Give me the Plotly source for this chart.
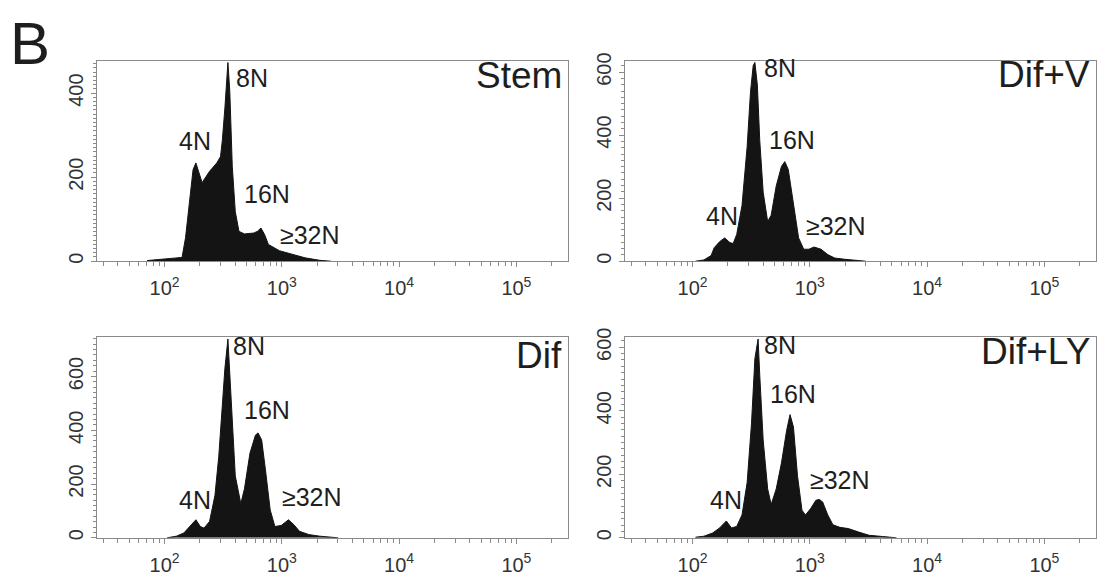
import math
import plotly.graph_objects as go

# ---------------- data (DNA content in arbitrary fluorescence units, counts) ----------------
stem_x = [71, 95, 117, 141, 151, 163, 175, 185, 209, 242, 279, 300, 311, 327, 342, 347, 360, 378, 401, 431,
          480, 575, 618, 664, 714, 768, 953, 1271, 1578, 2108, 2618]
stem_y = [1.5, 5, 8, 9, 56, 133, 218, 234, 187, 214, 234, 249, 288, 365, 458, 473, 404, 226, 118, 71,
          65, 67, 71, 79, 63, 40, 25, 15, 8, 2, 0]

difv_x = [106, 125, 144, 153, 170, 188, 208, 222, 238, 264, 292, 312, 329, 340, 357, 374, 400, 437, 468, 517,
          573, 612, 655, 725, 802, 887, 982, 1086, 1245, 1422, 1629, 1995, 2612, 2992]
difv_y = [0, 4, 18, 43, 62, 74, 59, 56, 85, 177, 363, 538, 621, 631, 559, 384, 219, 126, 146, 239,
          301, 316, 291, 177, 74, 38, 38, 45, 38, 21, 10, 6, 2, 0]

dif_x = [105, 126, 146, 163, 185, 202, 217, 242, 269, 290, 311, 327, 347, 360, 378, 401, 447, 480, 535, 596,
         627, 673, 724, 796, 873, 988, 1140, 1271, 1416, 1698, 2108, 3027]
dif_y = [0, 6, 18, 39, 67, 42, 36, 61, 158, 303, 485, 630, 739, 606, 400, 230, 127, 182, 315, 382,
         390, 364, 255, 103, 42, 46, 67, 48, 24, 12, 6, 0]

difly_x = [106, 125, 148, 170, 194, 215, 238, 264, 292, 318, 340, 362, 374, 400, 437, 468, 517, 573, 634, 678,
           725, 785, 857, 918, 1016, 1125, 1202, 1285, 1422, 1574, 1803, 2133, 2612, 3199, 4188, 5483]
difly_y = [2, 5, 15, 31, 53, 31, 36, 72, 174, 359, 564, 626, 513, 308, 154, 105, 154, 236, 338, 388,
           349, 195, 87, 72, 92, 118, 121, 113, 72, 41, 33, 29, 18, 8, 4, 0]

panel_names = ["Stem", "Dif+V", "Dif", "Dif+LY"]
y_max = [477, 636, 745, 631]
y_ticks = [[0, 200, 400], [0, 200, 400, 600], [0, 200, 400, 600], [0, 200, 400, 600]]
y_minor = [10, 20, 20, 20]

peak_labels = ["4N", "8N", "16N", "≥32N"]
# label positions (DNA value, count) per panel
label_x = [[182, 555, 752, 1722], [178, 553, 710, 1687], [182, 524, 740, 1824], [191, 553, 714, 1803]]
label_y = [[273, 423, 146, 49], [124, 593, 366, 93], [119, 691, 452, 131], [101, 588, 434, 162]]
title_y = [0.90, 0.908, 0.886, 0.907]

x_decades = [100, 1000, 10000, 100000]
x_decade_text = ["10<sup>2</sup>", "10<sup>3</sup>", "10<sup>4</sup>", "10<sup>5</sup>"]

# ---------------- figure ----------------
W, H = 1103, 576
FONT = "Liberation Sans, Arial, sans-serif"
INK = "#1e1e1e"
LINE = "#8a8a8a"

xs = [stem_x, difv_x, dif_x, difly_x]
ys = [stem_y, difv_y, dif_y, difly_y]

# pixel boxes: (left, right, top, bottom)
boxes = [(97, 568, 52, 257), (625, 1096, 52, 257), (97, 568, 335, 540), (625, 1096, 335, 540)]

minor_vals = [m * 10 ** e for e in range(1, 6) for m in range(2, 10)]

fig = go.Figure()
for i in range(4):
    ax = "" if i == 0 else str(i + 1)
    fig.add_trace(go.Scatter(
        x=xs[i], y=ys[i], mode="lines", fill="tozeroy",
        line=dict(color="#141414", width=1), fillcolor="#141414",
        xaxis="x" + ax, yaxis="y" + ax, showlegend=False, hoverinfo="skip"))
    l, r, t, b = boxes[i]
    xdom = [l / W, r / W]
    ydom = [1 - b / H, 1 - t / H]
    fig.update_layout(**{
        "xaxis" + ax: dict(
            type="log", range=[1.424, 5.44], domain=xdom, anchor="y" + ax,
            showline=True, linecolor=LINE, linewidth=1, mirror=True,
            showgrid=False, zeroline=False,
            tickmode="array", tickvals=x_decades, ticktext=x_decade_text,
            ticks="outside", ticklen=5, tickcolor=LINE, tickwidth=1,
            minor=dict(tickmode="array", tickvals=minor_vals, ticks="outside",
                       ticklen=4, tickcolor=LINE, tickwidth=1, showgrid=False),
            tickfont=dict(family=FONT, size=20, color="#333333"),
            ticklabelstandoff=4,
        ),
        "yaxis" + ax: dict(
            range=[0, y_max[i]], domain=ydom, anchor="x" + ax,
            showline=True, linecolor=LINE, linewidth=1, mirror=True,
            showgrid=False, zeroline=False,
            tickmode="array", tickvals=y_ticks[i],
            ticks="outside", ticklen=5, tickcolor=LINE, tickwidth=1,
            minor=dict(dtick=y_minor[i], ticks="outside", ticklen=3,
                       tickcolor=LINE, tickwidth=1, showgrid=False),
            tickangle=-90,
            tickfont=dict(family=FONT, size=20, color="#333333"),
        ),
    })
    # peak labels
    for j in range(4):
        fig.add_annotation(
            x=math.log10(label_x[i][j]), y=label_y[i][j], xref="x" + ax, yref="y" + ax,
            text=peak_labels[j], showarrow=False, yshift=6,
            font=dict(family=FONT, size=25, color=INK),
            xanchor="center", yanchor="middle")
    # panel title
    fig.add_annotation(
        x=0.992, y=title_y[i], xref="x" + ax + " domain", yref="y" + ax + " domain",
        text=panel_names[i], showarrow=False, yshift=5,
        font=dict(family=FONT, size=37, color=INK),
        xanchor="right", yanchor="middle")

fig.add_annotation(x=8 / W, y=1 - 34 / H, xref="paper", yref="paper", text="B",
                   showarrow=False, font=dict(family=FONT, size=60, color=INK),
                   xanchor="left", yanchor="middle")

fig.update_layout(width=W, height=H, margin=dict(l=0, r=0, t=0, b=0),
                  paper_bgcolor="white", plot_bgcolor="white",
                  font=dict(family=FONT, color=INK))

fig.write_html("out.html")
